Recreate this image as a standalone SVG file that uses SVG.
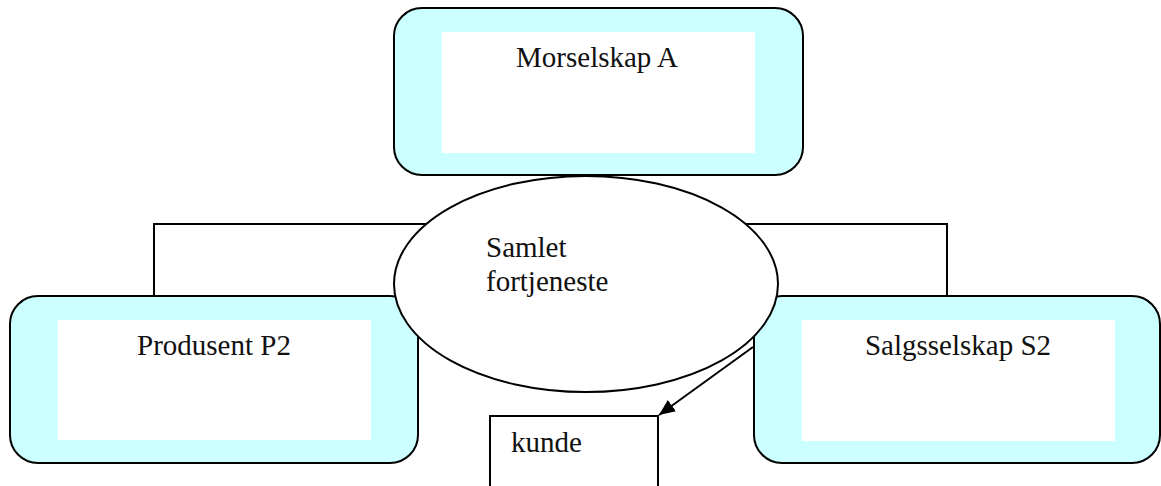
<svg xmlns="http://www.w3.org/2000/svg" width="1161" height="486" viewBox="0 0 1161 486">
<style>
.box{fill:#CCFFFF;stroke:#000;stroke-width:2}
.inner{fill:#FFFFFF;stroke:none}
.line{fill:none;stroke:#000;stroke-width:2}
.t{font-family:"Liberation Serif","Times New Roman",serif;font-size:29px;fill:#111}
</style>
<defs>
<marker id="arr" markerWidth="16" markerHeight="14" refX="16" refY="7" orient="auto" markerUnits="userSpaceOnUse" viewBox="0 0 16 14">
<path d="M0,0 L16,7 L0,14 z" fill="#000"/>
</marker>
</defs>
<g id="connectors">
<polyline class="line" points="154,296 154,224 440,224"/>
<polyline class="line" points="730,224 947,224 947,296"/>
</g>
<g id="morselskap">
<rect class="box" x="394" y="8" width="409" height="167" rx="28"/>
<rect class="inner" x="442" y="32" width="313" height="121"/>
<text class="t" x="597" y="67" text-anchor="middle">Morselskap A</text>
</g>
<g id="produsent">
<rect class="box" x="10" y="296" width="408" height="167" rx="28"/>
<rect class="inner" x="58" y="320" width="313" height="120"/>
<text class="t" x="214" y="355" text-anchor="middle">Produsent P2</text>
</g>
<g id="salgsselskap">
<rect class="box" x="754" y="296" width="406" height="167" rx="28"/>
<rect class="inner" x="802" y="320" width="313" height="121"/>
<text class="t" x="958" y="355" text-anchor="middle">Salgsselskap S2</text>
</g>
<g id="fortjeneste">
<ellipse cx="586" cy="284" rx="192" ry="108" fill="#FFFFFF" stroke="#000" stroke-width="2"/>
<text class="t" x="486" y="257">Samlet</text>
<text class="t" x="486" y="291">fortjeneste</text>
</g>
<g id="kunde">
<path d="M490,487 L490,416 L658,416 L658,487" fill="#FFFFFF" stroke="#000" stroke-width="2"/>
<text class="t" x="511" y="452">kunde</text>
</g>
<g id="arrow">
<line class="line" x1="753" y1="347" x2="659" y2="415" marker-end="url(#arr)"/>
</g>
</svg>
